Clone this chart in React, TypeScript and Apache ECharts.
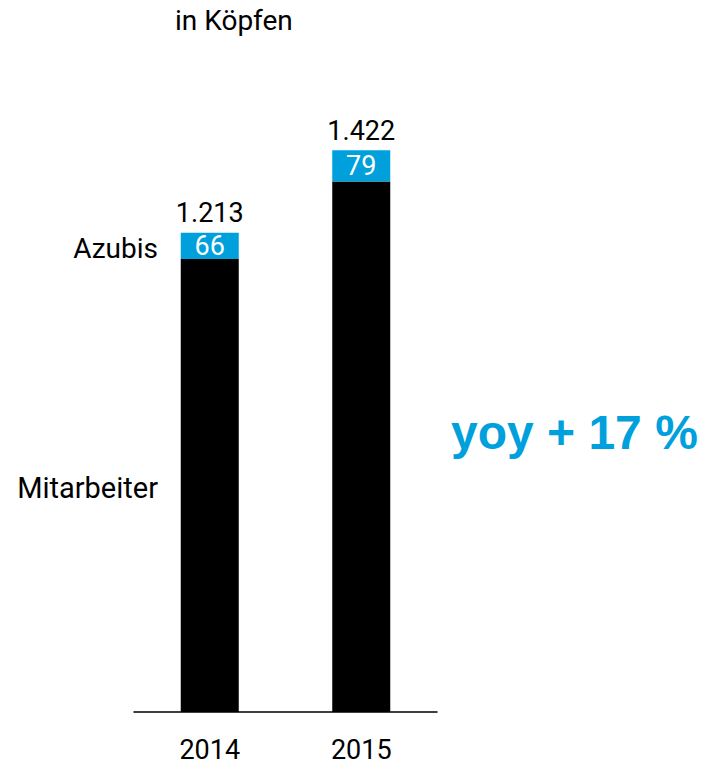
import React, { useEffect, useRef } from "react";
import * as echarts from "echarts";

const categories = ["2014", "2015"];
const mitarbeiter = [1147, 1343];
const azubis = [66, 79];
const totals = [1213, 1422];
const yoyText = "yoy + 17 %";
const unitText = "in Köpfen";

const BLUE = "#00a0dc";
const FONT = "Roboto, 'Noto Sans', sans-serif";

function fmt(n: number): string {
  return String(n).replace(/\B(?=(\d{3})+(?!\d))/g, ".");
}

export default function App() {
  const ref = useRef<HTMLDivElement>(null);
  useEffect(() => {
    document.body.style.margin = "0";
    if (!ref.current) return;
    const chart = echarts.init(ref.current, null, { renderer: "svg" });
    chart.setOption({
      animation: false,
      backgroundColor: "#ffffff",
      grid: { left: 134, right: 270, top: 80, bottom: 53 },
      xAxis: {
        type: "category",
        data: categories,
        axisLine: { lineStyle: { color: "#000", width: 1.5 } },
        axisTick: { show: false },
        axisLabel: { color: "#000", fontSize: 27, fontFamily: FONT, margin: 24 },
      },
      yAxis: {
        type: "value",
        min: 0,
        max: 1600,
        show: false,
        splitLine: { show: false },
      },
      series: [
        {
          name: "Mitarbeiter",
          type: "bar",
          stack: "a",
          barWidth: 58,
          data: mitarbeiter,
          itemStyle: { color: "#000" },
        },
        {
          name: "Azubis",
          type: "bar",
          stack: "a",
          data: azubis,
          itemStyle: { color: BLUE },
          label: {
            show: true,
            position: "inside",
            color: "#fff",
            fontSize: 27,
            fontFamily: FONT,
          },
        },
        {
          name: "Gesamt",
          type: "bar",
          stack: "a",
          data: [0, 0],
          itemStyle: { color: "transparent" },
          label: {
            show: true,
            position: "top",
            distance: 6,
            color: "#000",
            fontSize: 27,
            fontFamily: FONT,
            formatter: (p: any) => fmt(totals[p.dataIndex]),
          },
        },
      ],
      graphic: [
        {
          type: "text",
          x: 175,
          y: 20,
          style: {
            text: unitText,
            fontSize: 28,
            fontFamily: FONT,
            fill: "#000",
            verticalAlign: "middle",
          },
        },
        {
          type: "text",
          x: 158,
          y: 248,
          style: {
            text: "Azubis",
            fontSize: 28,
            fontFamily: FONT,
            fill: "#000",
            align: "right",
            verticalAlign: "middle",
          },
        },
        {
          type: "text",
          x: 158,
          y: 488,
          style: {
            text: "Mitarbeiter",
            fontSize: 29,
            fontFamily: FONT,
            fill: "#000",
            align: "right",
            verticalAlign: "middle",
          },
        },
        {
          type: "text",
          x: 451,
          y: 432,
          style: {
            text: yoyText,
            fontSize: 48,
            fontWeight: "bold",
            fontFamily: "'Liberation Sans', Arial, sans-serif",
            fill: BLUE,
            align: "left",
            verticalAlign: "middle",
          },
        },
      ],
    });
    return () => chart.dispose();
  }, []);
  return <div ref={ref} style={{ width: 707, height: 765 }} />;
}
